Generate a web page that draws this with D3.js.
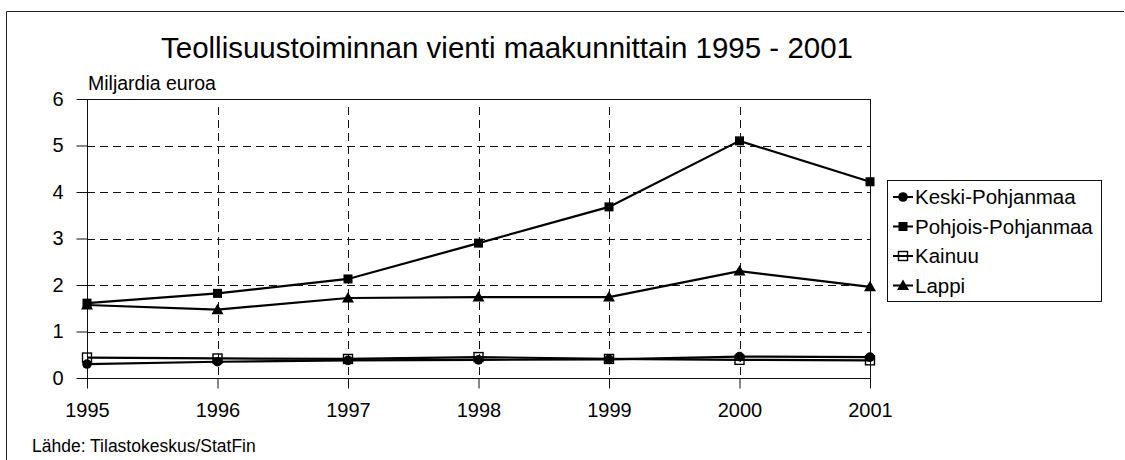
<!DOCTYPE html>
<html>
<head>
<meta charset="utf-8">
<script src="https://cdn.jsdelivr.net/npm/d3@7"></script>
<style>
  html, body { margin: 0; padding: 0; background: #fff; }
  svg { display: block; font-family: "Liberation Sans", Arial, sans-serif; }
</style>
</head>
<body>
<svg id="chart" width="1125" height="460"></svg>
<script>
// Teollisuustoiminnan vienti maakunnittain, miljardia euroa
const years = ["1995", "1996", "1997", "1998", "1999", "2000", "2001"];
const yTicks = [0, 1, 2, 3, 4, 5, 6];

const keskiPohjanmaa  = [0.30, 0.35, 0.38, 0.39, 0.40, 0.46, 0.45];
const pohjoisPohjanmaa = [1.61, 1.82, 2.13, 2.90, 3.68, 5.10, 4.22];
const kainuu          = [0.44, 0.42, 0.41, 0.45, 0.41, 0.39, 0.38];
const lappi           = [1.57, 1.47, 1.72, 1.74, 1.74, 2.30, 1.96];

const seriesNames = ["Keski-Pohjanmaa", "Pohjois-Pohjanmaa", "Kainuu", "Lappi"];
const seriesValues = [keskiPohjanmaa, pohjoisPohjanmaa, kainuu, lappi];
const seriesMarkers = ["circle", "filledSquare", "openSquare", "triangle"];

const titleText = "Teollisuustoiminnan vienti maakunnittain 1995 - 2001";
const unitText = "Miljardia euroa";
const sourceText = "Lähde: Tilastokeskus/StatFin";

const svg = d3.select("#chart");
const plot = { left: 87, right: 870, top: 99, bottom: 378 };

const x = d3.scalePoint().domain(years).range([plot.left, plot.right]);
const y = d3.scaleLinear().domain([0, 6]).range([plot.bottom, plot.top]);

// outer frame (top and left edges)
svg.append("path")
  .attr("d", "M6.5,470 L6.5,11.5 L1124,11.5")
  .attr("fill", "none").attr("stroke", "#222").attr("stroke-width", 1);

// title
svg.append("text")
  .attr("x", 507).attr("y", 58)
  .attr("text-anchor", "middle")
  .attr("font-size", 29.5)
  .attr("fill", "#000")
  .text(titleText);

// unit label
svg.append("text")
  .attr("x", 88).attr("y", 90)
  .attr("font-size", 19.5)
  .attr("fill", "#000")
  .text(unitText);

// horizontal gridlines
const dash = "8,5";
svg.append("g")
  .selectAll("line")
  .data(yTicks.filter(d => d > 0 && d < 6))
  .join("line")
  .attr("x1", plot.left).attr("x2", plot.right)
  .attr("y1", d => Math.round(y(d)) + 0.5).attr("y2", d => Math.round(y(d)) + 0.5)
  .attr("stroke", "#111").attr("stroke-width", 1)
  .attr("stroke-dasharray", dash);

// vertical gridlines
svg.append("g")
  .selectAll("line")
  .data(years.slice(1, -1))
  .join("line")
  .attr("x1", d => Math.round(x(d)) + 0.5).attr("x2", d => Math.round(x(d)) + 0.5)
  .attr("y1", plot.top + 8).attr("y2", plot.bottom)
  .attr("stroke", "#111").attr("stroke-width", 1)
  .attr("stroke-dasharray", dash);

// plot frame
svg.append("rect")
  .attr("x", plot.left + 0.5).attr("y", plot.top + 0.5)
  .attr("width", plot.right - plot.left).attr("height", plot.bottom - plot.top)
  .attr("fill", "none").attr("stroke", "#111").attr("stroke-width", 1);

// y axis
const yAxis = svg.append("g")
  .attr("transform", `translate(${plot.left + 0.5},0)`)
  .call(d3.axisLeft(y).tickValues(yTicks).tickSize(11).tickPadding(13).tickFormat(d3.format("d")));
yAxis.select(".domain").remove();
yAxis.selectAll("line").attr("stroke", "#111");
yAxis.selectAll("text")
  .attr("font-family", "Liberation Sans, Arial, sans-serif")
  .attr("font-size", 20).attr("fill", "#000");

// x axis
const xAxis = svg.append("g")
  .attr("transform", `translate(0,${plot.bottom + 0.5})`)
  .call(d3.axisBottom(x).tickSize(10).tickPadding(14));
xAxis.select(".domain").remove();
xAxis.selectAll("line").attr("stroke", "#111");
xAxis.selectAll("text")
  .attr("font-family", "Liberation Sans, Arial, sans-serif")
  .attr("font-size", 20).attr("fill", "#000");

// marker drawing
function drawMarker(g, type, cx, cy) {
  if (type === "circle") {
    g.append("circle").attr("cx", cx).attr("cy", cy).attr("r", 4.8).attr("fill", "#000");
  } else if (type === "filledSquare") {
    g.append("rect").attr("x", cx - 4.5).attr("y", cy - 4.5).attr("width", 9).attr("height", 9).attr("fill", "#000");
  } else if (type === "openSquare") {
    g.append("rect").attr("x", cx - 4.5).attr("y", cy - 4.5).attr("width", 9).attr("height", 9)
      .attr("fill", "none").attr("stroke", "#000").attr("stroke-width", 1.4);
  } else if (type === "triangle") {
    g.append("path").attr("d", `M${cx},${cy - 6} L${cx + 6},${cy + 4.5} L${cx - 6},${cy + 4.5} Z`).attr("fill", "#000");
  }
}

const line = d3.line().x((d, i) => x(years[i])).y(d => y(d));

// lines
const linesG = svg.append("g");
seriesValues.forEach(vals => {
  linesG.append("path")
    .attr("d", line(vals))
    .attr("fill", "none").attr("stroke", "#000").attr("stroke-width", 2.2);
});

// markers
const markerOrder = [2, 0, 1, 3];
const markersG = svg.append("g");
markerOrder.forEach(si => {
  seriesValues[si].forEach((v, i) => drawMarker(markersG, seriesMarkers[si], x(years[i]), y(v)));
});

// legend
const legend = svg.append("g");
legend.append("rect")
  .attr("x", 887.5).attr("y", 180.5).attr("width", 214).attr("height", 121)
  .attr("fill", "#fff").attr("stroke", "#111").attr("stroke-width", 1);
seriesNames.forEach((name, i) => {
  const cy = 197 + i * 29.5;
  legend.append("line").attr("x1", 893).attr("x2", 913).attr("y1", cy).attr("y2", cy)
    .attr("stroke", "#000").attr("stroke-width", 2);
  drawMarker(legend, seriesMarkers[i], 903, cy);
  legend.append("text").attr("x", 915).attr("y", cy + 7)
    .attr("font-size", 20.5).attr("fill", "#000").text(name);
});

// source
svg.append("text")
  .attr("x", 32).attr("y", 452)
  .attr("font-size", 17.5).attr("fill", "#000")
  .text(sourceText);
</script>
</body>
</html>
